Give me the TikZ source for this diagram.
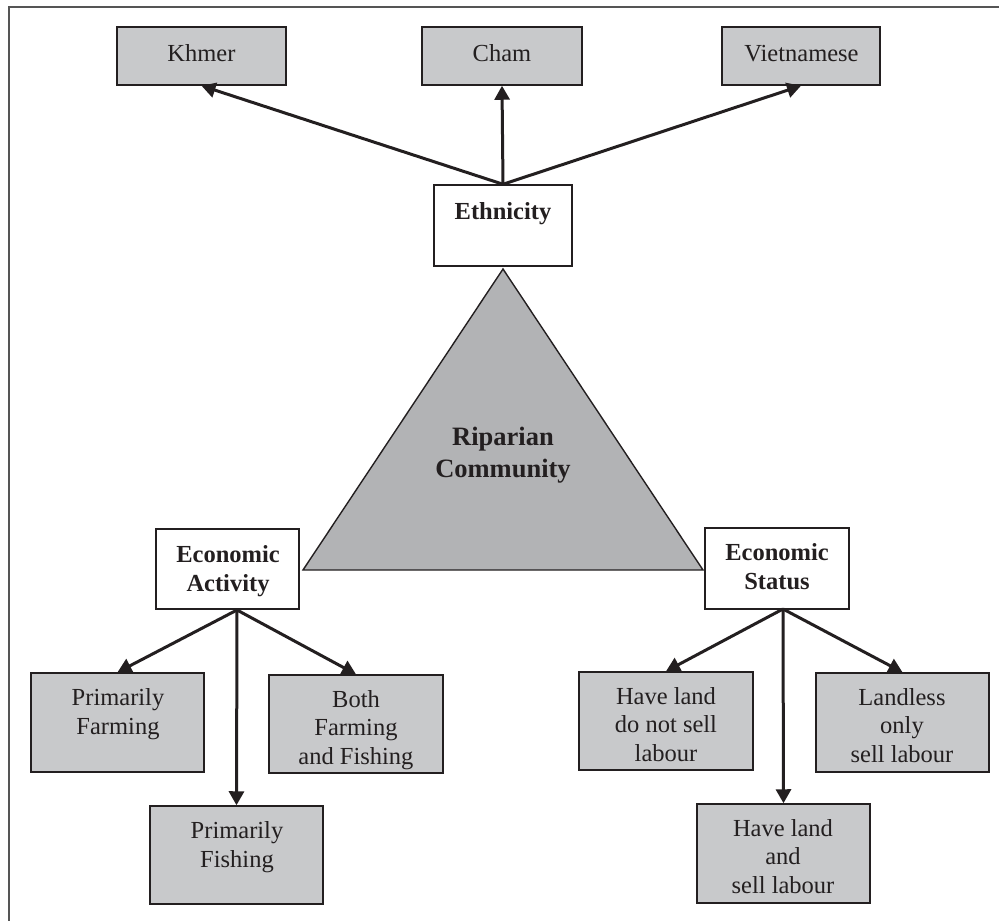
\documentclass[tikz,border=0pt]{standalone}
\usepackage{fontspec}
\setmainfont{Liberation Serif}
\usetikzlibrary{arrows.meta}
\definecolor{boxgray}{RGB}{200,201,203}
\definecolor{trigray}{RGB}{178,179,181}
\definecolor{ink}{RGB}{35,31,32}
\definecolor{framec}{RGB}{85,85,85}
\begin{document}
\begin{tikzpicture}[x=1pt,y=-1pt,
  box/.style={draw=ink, line width=1.5pt, fill=boxgray, inner sep=0pt},
  wbox/.style={box, fill=white},
  txt/.style={text=ink, inner sep=0pt, anchor=base, align=center, font=\fontsize{24.5}{28.5}\selectfont},
  btxt/.style={txt, font=\bfseries\fontsize{24.5}{29}\selectfont},
  arr/.style={draw=ink, line width=3pt, -{Triangle[length=14pt,width=15pt]}}
]
\useasboundingbox (0,0) rectangle (999,921);
\draw[framec, line width=2pt] (8.5,921) -- (8.5,7) -- (999,7);

% triangle
\draw[fill=trigray, draw=ink, line width=1.4pt] (503,269) -- (703,570) -- (303,570) -- cycle;
\node[txt, font=\bfseries\fontsize{26.5}{32}\selectfont] (rc) at (503,477) {Riparian\\Community};

% top boxes
\node[box, minimum width=169pt, minimum height=58pt] (khmer) at (201.5,56) {};
\node[box, minimum width=160pt, minimum height=58pt] (cham) at (502,56) {};
\node[box, minimum width=158pt, minimum height=58pt] (viet) at (801,56) {};
\node[txt] (khmert) at (201.5,61) {Khmer};
\node[txt] (chamt) at (502,61) {Cham};
\node[txt] (vietT) at (801.5,61) {Vietnamese};

% ethnicity
\node[wbox, minimum width=138pt, minimum height=81pt] (eth) at (503,225.5) {};
\node[btxt] (etht) at (503,219) {Ethnicity};

% economic activity / status
\node[wbox, minimum width=143pt, minimum height=80pt] (ea) at (227.5,569) {};
\node[btxt] (eat) at (228,591) {Economic\\Activity};
\node[wbox, minimum width=144pt, minimum height=81pt] (es) at (777,568.5) {};
\node[btxt] (est) at (777,589) {Economic\\Status};

% lower boxes
\node[box, minimum width=173pt, minimum height=99pt] (pfarm) at (117.5,722.5) {};
\node[box, minimum width=174pt, minimum height=98pt] (both) at (356,724) {};
\node[box, minimum width=173pt, minimum height=98pt] (pfish) at (236.5,855) {};
\node[box, minimum width=174pt, minimum height=98pt] (hlnot) at (666,721) {};
\node[box, minimum width=173pt, minimum height=99pt] (landless) at (902.5,722.5) {};
\node[box, minimum width=173pt, minimum height=99pt] (hlsell) at (783.5,853.5) {};

\node[txt] (pfarmt) at (118,734) {Primarily\\Farming};
\node[txt] (botht) at (356,764) {Both\\Farming\\and Fishing};
\node[txt] (pfisht) at (237,867) {Primarily\\Fishing};
\node[txt] (hlnott) at (666,761) {Have land\\do not sell\\labour};
\node[txt] (landlesst) at (902,762) {Landless\\only\\sell labour};
\node[txt] (hlsellt) at (783,893) {Have land\\and\\sell labour};

% connectors
\draw[arr] (eth.north) -- (khmer.south);
\draw[arr] (eth.north) -- (cham.south);
\draw[arr] (eth.north) -- (viet.south);

\coordinate (eaO) at (237,610);
\coordinate (esO) at (783,609);
\draw[arr] (eaO) -- (pfarm.north);
\draw[arr] (eaO) -- (both.north);
\draw[arr] (eaO) -- (pfish.north);
\draw[arr] (esO) -- (hlnot.north);
\draw[arr] (esO) -- (landless.north);
\draw[arr] (esO) -- (hlsell.north);
\end{tikzpicture}
\end{document}
